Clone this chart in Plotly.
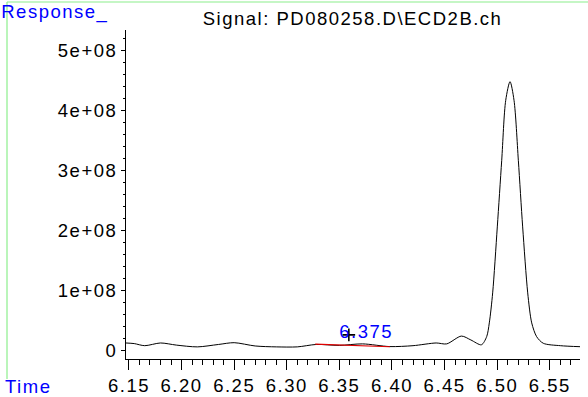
import plotly.graph_objects as go

# Chromatogram: retention time (min) vs detector response
time_min = [6.147, 6.155, 6.165, 6.180, 6.195, 6.215, 6.235, 6.250, 6.270, 6.290,
            6.310, 6.328, 6.350, 6.372, 6.398, 6.420, 6.442, 6.452, 6.466, 6.475,
            6.485, 6.490, 6.4925, 6.4957, 6.5001, 6.5043, 6.5081, 6.5122, 6.5160,
            6.5201, 6.5242, 6.5290, 6.5328, 6.5375, 6.5438, 6.560, 6.579]
response = [1.25e7, 1.15e7, 0.80e7, 1.25e7, 0.90e7, 0.60e7, 1.00e7, 1.30e7, 0.75e7, 0.60e7,
            0.60e7, 1.00e7, 0.85e7, 1.10e7, 0.65e7, 0.80e7, 1.25e7, 1.10e7, 2.40e7, 1.75e7,
            0.95e7, 2.3e7, 4.6e7, 9.6e7, 2.06e8, 3.17e8, 4.17e8, 4.48e8, 4.17e8,
            3.17e8, 2.06e8, 9.6e7, 4.6e7, 2.3e7, 1.2e7, 0.8e7, 0.63e7]

# Integration baseline of the small peak
peak_base_time = [6.327, 6.398]
peak_base_resp = [1.05e7, 0.62e7]

# Peak label and its marker
peak_label_time = 6.375
peak_label_resp = 3.1e7
marker_time = [6.359]
marker_resp = [2.6e7]

x_tick_vals = [6.15, 6.20, 6.25, 6.30, 6.35, 6.40, 6.45, 6.50, 6.55]
x_tick_text = ["6.15", "6.20", "6.25", "6.30", "6.35", "6.40", "6.45", "6.50", "6.55"]
y_tick_vals = [0, 1e8, 2e8, 3e8, 4e8, 5e8]
y_tick_text = ["0", "1e+08", "2e+08", "3e+08", "4e+08", "5e+08"]

W, H = 588, 397
L, R, T, B = 126, 8, 30, 38
PW, PH = W - L - R, H - T - B


def px_x(px):
    return (px - L) / PW


def px_y(py):
    return (H - B - py) / PH


FONT = "Liberation Sans, Arial, Helvetica, sans-serif"
FS = 18.5
BLUE = "#0000ff"
GREEN = "#8cee8c"

fig = go.Figure()
fig.add_trace(go.Scatter(x=time_min, y=response, mode="lines",
                         line=dict(color="black", width=1, shape="spline", smoothing=0.8),
                         hoverinfo="skip"))
fig.add_trace(go.Scatter(x=peak_base_time, y=peak_base_resp, mode="lines",
                         line=dict(color="#e00000", width=1.2), hoverinfo="skip"))
fig.add_trace(go.Scatter(x=marker_time, y=marker_resp, mode="markers",
                         marker=dict(symbol="cross-thin", size=9,
                                     line=dict(color="black", width=1.6)),
                         hoverinfo="skip"))

axis_common = dict(showline=True, linecolor="black", linewidth=1, mirror=False,
                   showgrid=False, zeroline=False, ticks="outside", tickcolor="black",
                   tickwidth=1, automargin=False,
                   tickfont=dict(family=FONT, size=FS, color="black"))

fig.update_xaxes(range=[6.1472, 6.5787], tickmode="array", tickvals=x_tick_vals,
                 ticktext=x_tick_text, ticklen=10,
                 minor=dict(tick0=6.15, dtick=0.01, ticks="outside", ticklen=5,
                            tickcolor="black", showgrid=False),
                 **axis_common)
fig.update_yaxes(range=[-1.42e7, 5.342e8], tickmode="array", tickvals=y_tick_vals,
                 ticktext=y_tick_text, ticklen=4,
                 minor=dict(tick0=0, dtick=2e7, ticks="outside", ticklen=2,
                            tickcolor="black", showgrid=False),
                 **axis_common)

fig.update_layout(
    width=W, height=H, autosize=False,
    margin=dict(l=L, r=R, t=T, b=B, pad=0, autoexpand=False),
    paper_bgcolor="white", plot_bgcolor="white",
    showlegend=False,
    shapes=[
        dict(type="line", xref="paper", yref="paper", x0=px_x(7), x1=px_x(600),
             y0=px_y(2), y1=px_y(2), line=dict(color=GREEN, width=1.2)),
        dict(type="line", xref="paper", yref="paper", x0=px_x(7), x1=px_x(7),
             y0=px_y(2), y1=px_y(379), line=dict(color=GREEN, width=1.2)),
    ],
    annotations=[
        dict(text="Signal: PD080258.D\\ECD2B.ch", xref="paper", yref="paper",
             x=px_x(352.5), y=px_y(19), xanchor="center", yanchor="middle",
             showarrow=False, font=dict(family=FONT, size=FS, color="black")),
        dict(text="Response_", xref="paper", yref="paper",
             x=px_x(6), y=px_y(12), xanchor="left", yanchor="middle",
             showarrow=False, font=dict(family=FONT, size=FS, color=BLUE)),
        dict(text="Time", xref="paper", yref="paper",
             x=px_x(6), y=px_y(386.5), xanchor="left", yanchor="middle",
             showarrow=False, font=dict(family=FONT, size=FS, color=BLUE)),
        dict(text=f"{peak_label_time:.3f}", xref="x", yref="y",
             x=peak_label_time, y=peak_label_resp, xanchor="center", yanchor="middle",
             showarrow=False, font=dict(family=FONT, size=FS, color=BLUE)),
    ],
)

# The labels are drawn with slightly widened letter spacing
spacing_js = ("var s=document.createElement('style');"
              "s.textContent='.main-svg text{letter-spacing:1.5px;}';"
              "document.head.appendChild(s);")

fig.write_html("out.html", post_script=spacing_js)
